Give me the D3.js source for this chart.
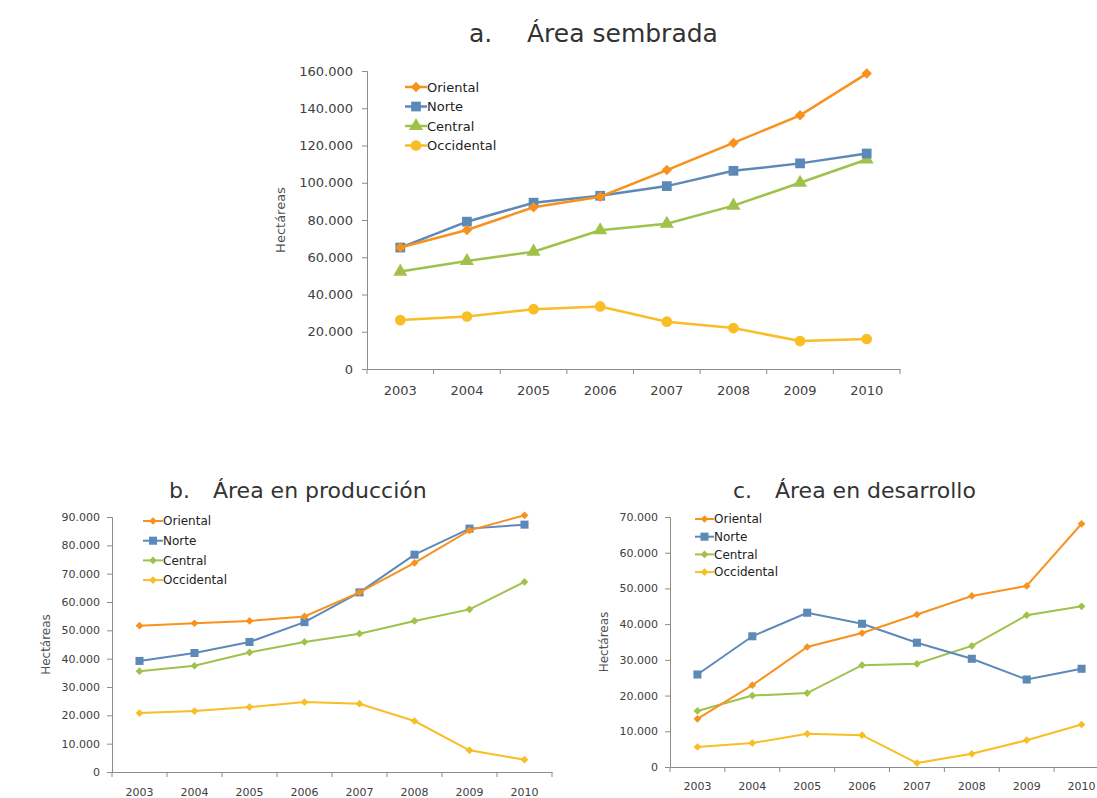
<!DOCTYPE html>
<html>
<head>
<meta charset="utf-8">
<script src="https://cdn.jsdelivr.net/npm/d3@7"></script>
<style>
  body { margin: 0; background: #fff; }
  text { font-family: "DejaVu Sans", sans-serif; fill: #404040; }
</style>
</head>
<body>
<div id="chart"></div>
<script>
// Hectáreas por región, 2003-2010

const years = ["2003", "2004", "2005", "2006", "2007", "2008", "2009", "2010"];
const regions = ["Oriental", "Norte", "Central", "Occidental"];

// a. Área sembrada
const sembOriental   = [65200, 74600, 86800, 92500, 106800, 121400, 136200, 158600];
const sembNorte      = [65200, 79100, 89300, 93000, 98200, 106400, 110400, 115700];
const sembCentral    = [52300, 58000, 63000, 74500, 78000, 87700, 100000, 112500];
const sembOccidental = [26250, 28200, 32100, 33600, 25400, 22000, 15000, 16100];

// b. Área en producción
const prodOriental   = [51650, 52500, 53300, 54900, 63400, 73800, 85300, 90600];
const prodNorte      = [39200, 42000, 45900, 52900, 63400, 76700, 85900, 87300];
const prodCentral    = [35600, 37500, 42200, 45900, 48800, 53300, 57400, 67100];
const prodOccidental = [20800, 21500, 22900, 24700, 24100, 18000, 7650, 4350];

// c. Área en desarrollo
const desOriental   = [13500, 22900, 33600, 37500, 42700, 47900, 50700, 68100];
const desNorte      = [25900, 36600, 43200, 40100, 34800, 30300, 24500, 27500];
const desCentral    = [15700, 20000, 20700, 28500, 28900, 33900, 42500, 45000];
const desOccidental = [5600, 6700, 9300, 8900, 1100, 3700, 7500, 11900];

const colors = { Oriental: "#f7921e", Norte: "#5d89b8", Central: "#a0c14a", Occidental: "#f9bd26" };

const locale = d3.formatLocale({ decimal: ",", thousands: ".", grouping: [3], currency: ["", ""] });
const fmt = locale.format(",d");

const svg = d3.select("#chart").append("svg")
    .attr("width", 1097)
    .attr("height", 798)
    .style("background", "#fff");

// diamond = square turned 45 degrees
function marker(sel, shape, size) {
    const rot = shape === "diamond" ? 45 : 0;
    const type = { diamond: d3.symbolSquare, square: d3.symbolSquare,
                   triangle: d3.symbolTriangle, circle: d3.symbolCircle }[shape];
    sel.attr("d", d3.symbol().type(type).size(size))
       .attr("transform", function () { return d3.select(this).attr("transform") + ` rotate(${rot})`; });
}

function drawChart(cfg) {
    const g = svg.append("g");

    const x = d3.scaleBand().domain(years).range([cfg.x0, cfg.x1]);
    const y = d3.scaleLinear().domain([0, cfg.max]).range([cfg.y0, cfg.y1]);

    // title: letter and name set apart
    g.append("text")
        .attr("x", cfg.titleX1).attr("y", cfg.titleY)
        .style("font-size", cfg.titleSize + "px").style("fill", "#333")
        .text(cfg.letter);
    g.append("text")
        .attr("x", cfg.titleX2).attr("y", cfg.titleY)
        .style("font-size", cfg.titleSize + "px").style("fill", "#333")
        .text(cfg.title);

    // y axis
    const yAxis = g.append("g")
        .attr("transform", `translate(${cfg.x0},0)`)
        .call(d3.axisLeft(y).tickValues(d3.range(0, cfg.max + 1, cfg.step))
            .tickFormat(fmt).tickSize(5).tickPadding(cfg.tickPad));
    yAxis.select(".domain").attr("stroke", "#8c8c8c");
    yAxis.selectAll(".tick line").attr("stroke", "#8c8c8c");
    yAxis.selectAll("text").style("font-size", cfg.tickSize + "px").style("fill", "#404040");

    // x axis: labels centred, ticks on band boundaries
    const xAxis = g.append("g")
        .attr("transform", `translate(0,${cfg.y0})`)
        .call(d3.axisBottom(x).tickSize(0).tickPadding(cfg.xPad));
    xAxis.select(".domain").attr("stroke", "#8c8c8c");
    xAxis.selectAll("text").style("font-size", cfg.tickSize + "px").style("fill", "#404040");
    xAxis.selectAll(".bound")
        .data(d3.range(years.length + 1))
        .enter().append("line")
        .attr("x1", i => cfg.x0 + i * x.step())
        .attr("x2", i => cfg.x0 + i * x.step())
        .attr("y1", 0).attr("y2", 5)
        .attr("stroke", "#8c8c8c");

    // y label
    g.append("text")
        .attr("transform", `translate(${cfg.labelX},${(cfg.y0 + cfg.y1) / 2}) rotate(-90)`)
        .attr("text-anchor", "middle")
        .style("font-size", cfg.labelSize + "px")
        .style("fill", "#505050")
        .text("Hectáreas");

    const line = d3.line()
        .x((d, i) => x(years[i]) + x.bandwidth() / 2)
        .y(d => y(d));

    // draw lines in reverse so Oriental sits on top
    regions.slice().reverse().forEach(r => {
        const vals = cfg.series[r];
        g.append("path")
            .datum(vals)
            .attr("fill", "none")
            .attr("stroke", colors[r])
            .attr("stroke-width", cfg.lineW)
            .attr("d", line);
        g.selectAll(".m-" + r)
            .data(vals)
            .enter().append("path")
            .attr("transform", (d, i) => `translate(${x(years[i]) + x.bandwidth() / 2},${y(d)})`)
            .attr("fill", colors[r])
            .call(marker, cfg.shapes[r], cfg.markSize[r]);
    });

    // legend
    const leg = g.append("g");
    regions.forEach((r, i) => {
        const ly = cfg.legY + i * cfg.legGap;
        leg.append("line")
            .attr("x1", cfg.legX).attr("x2", cfg.legX + cfg.legW)
            .attr("y1", ly).attr("y2", ly)
            .attr("stroke", colors[r]).attr("stroke-width", cfg.lineW);
        leg.append("path")
            .attr("transform", `translate(${cfg.legX + cfg.legW / 2},${ly})`)
            .attr("fill", colors[r])
            .call(marker, cfg.shapes[r], cfg.markSize[r]);
        leg.append("text")
            .attr("x", cfg.legX + cfg.legW)
            .attr("y", ly)
            .attr("dy", "0.35em")
            .style("font-size", cfg.legSize + "px")
            .style("fill", "#222")
            .text(r);
    });
}

drawChart({
    letter: "a.", title: "Área sembrada", titleX1: 469, titleX2: 527, titleY: 42, titleSize: 25,
    x0: 367, x1: 900, y0: 369, y1: 71, max: 160000, step: 20000,
    tickSize: 13, tickPad: 9, xPad: 17, labelX: 285, labelSize: 13, lineW: 2.5,
    series: { Oriental: sembOriental, Norte: sembNorte, Central: sembCentral, Occidental: sembOccidental },
    shapes: { Oriental: "diamond", Norte: "square", Central: "triangle", Occidental: "circle" },
    markSize: { Oriental: 55, Norte: 95, Central: 85, Occidental: 90 },
    legX: 405, legW: 22, legY: 87, legGap: 19.5, legSize: 13
});

drawChart({
    letter: "b.", title: "Área en producción", titleX1: 169, titleX2: 213, titleY: 498, titleSize: 22,
    x0: 112, x1: 552, y0: 772, y1: 517, max: 90000, step: 10000,
    tickSize: 11, tickPad: 7, xPad: 16, labelX: 50, labelSize: 12, lineW: 2,
    series: { Oriental: prodOriental, Norte: prodNorte, Central: prodCentral, Occidental: prodOccidental },
    shapes: { Oriental: "diamond", Norte: "square", Central: "diamond", Occidental: "diamond" },
    markSize: { Oriental: 30, Norte: 65, Central: 30, Occidental: 30 },
    legX: 143, legW: 20, legY: 521, legGap: 19.7, legSize: 12
});

drawChart({
    letter: "c.", title: "Área en desarrollo", titleX1: 733, titleX2: 775, titleY: 498, titleSize: 22,
    x0: 670, x1: 1109, y0: 767, y1: 517, max: 70000, step: 10000,
    tickSize: 11, tickPad: 7, xPad: 15, labelX: 608, labelSize: 12, lineW: 2,
    series: { Oriental: desOriental, Norte: desNorte, Central: desCentral, Occidental: desOccidental },
    shapes: { Oriental: "diamond", Norte: "square", Central: "diamond", Occidental: "diamond" },
    markSize: { Oriental: 30, Norte: 65, Central: 30, Occidental: 30 },
    legX: 695, legW: 19, legY: 519, legGap: 17.7, legSize: 12
});
</script>
</body>
</html>
